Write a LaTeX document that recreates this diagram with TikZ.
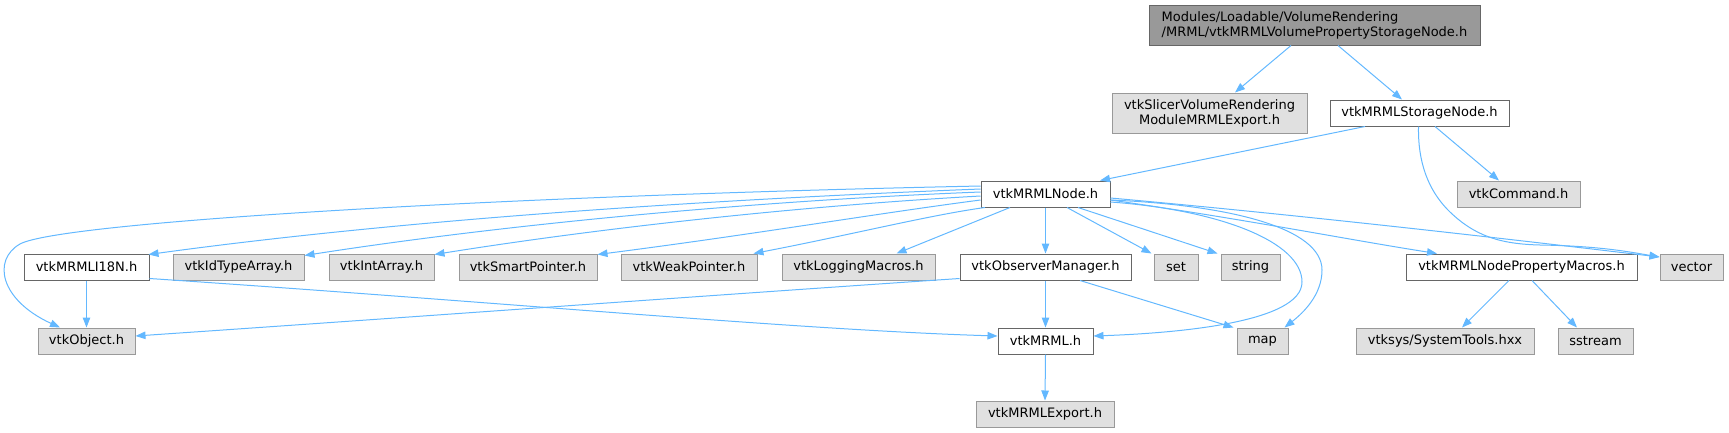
\documentclass[tikz,border=0pt]{standalone}
\usepackage{fontspec}
\setmainfont{DejaVu Sans}
\usetikzlibrary{arrows.meta}
\definecolor{edgec}{HTML}{63B8FF}
\definecolor{gfill}{HTML}{E0E0E0}
\definecolor{gdraw}{HTML}{999999}
\definecolor{wdraw}{HTML}{666666}
\definecolor{tfill}{HTML}{999999}
\tikzset{
  base/.style={rectangle, inner sep=0pt, line width=1pt, minimum height=26pt,
    font=\fontsize{13}{15}\selectfont, text=black},
  gbox/.style={base, fill=gfill, draw=gdraw},
  wbox/.style={base, fill=white, draw=wdraw},
  tbox/.style={base, fill=tfill, draw=wdraw},
  dep/.style={draw=edgec, line width=1pt, -{Triangle[length=10pt,width=7.5pt]}},
}
\begin{document}
\begin{tikzpicture}[x=1pt,y=-1pt]
\useasboundingbox (0,0) rectangle (1729,432);
% nodes
\node[tbox, minimum width=331pt, minimum height=40pt, align=left] (top) at (1314.5,25)
  {Modules/Loadable/VolumeRendering\\/MRML/vtkMRMLVolumePropertyStorageNode.h};
\node[gbox, minimum width=195pt, minimum height=40pt, align=center] (slicer) at (1209.5,113)
  {vtkSlicerVolumeRendering\\ModuleMRMLExport.h};
\node[wbox, minimum width=179pt] (storage) at (1419.5,113) {vtkMRMLStorageNode.h};
\node[wbox, minimum width=129pt] (mn) at (1045.5,194) {vtkMRMLNode.h};
\node[gbox, minimum width=123pt] (command) at (1518.5,194) {vtkCommand.h};
\node[wbox, minimum width=125pt] (i18n) at (86.5,267) {vtkMRMLI18N.h};
\node[gbox, minimum width=131pt] (idtype) at (238.5,267) {vtkIdTypeArray.h};
\node[gbox, minimum width=105pt] (intarray) at (381.5,267) {vtkIntArray.h};
\node[gbox, minimum width=138pt] (smartptr) at (528,267) {vtkSmartPointer.h};
\node[gbox, minimum width=136pt] (weakptr) at (689,267) {vtkWeakPointer.h};
\node[gbox, minimum width=153pt] (logging) at (858.5,267) {vtkLoggingMacros.h};
\node[wbox, minimum width=171pt] (observer) at (1045.5,267) {vtkObserverManager.h};
\node[gbox, minimum width=44pt] (set) at (1176,267) {set};
\node[gbox, minimum width=59pt] (string) at (1250.5,267) {string};
\node[wbox, minimum width=231pt] (propmacros) at (1521.5,267) {vtkMRMLNodePropertyMacros.h};
\node[gbox, minimum width=63pt] (vector) at (1691.5,267) {vector};
\node[gbox, minimum width=97pt] (object) at (86.5,341) {vtkObject.h};
\node[wbox, minimum width=95pt] (mrml) at (1045.5,341) {vtkMRML.h};
\node[gbox, minimum width=51pt] (map) at (1262.5,341) {map};
\node[gbox, minimum width=178pt] (systools) at (1445,341) {vtksys/SystemTools.hxx};
\node[gbox, minimum width=75pt] (sstream) at (1595.5,341) {sstream};
\node[gbox, minimum width=138pt] (export) at (1045,414) {vtkMRMLExport.h};
% edges
\draw[dep] ([xshift=-23.5pt]top.south) -- ([xshift=25.5pt]slicer.north);
\draw[dep] ([xshift=23.5pt]top.south) -- ([xshift=-17.5pt]storage.north);
\draw[dep] ([xshift=-54.5pt]storage.south) -- ([xshift=54.5pt]mn.north);
\draw[dep] ([xshift=15.5pt]storage.south) -- ([xshift=-19.5pt]command.north);
\draw[dep] ([xshift=-1pt]storage.south) .. controls (1418,150) and (1422,185) .. (1450,212)
  .. controls (1475,236) and (1500,244) .. (1540,245)
  .. controls (1600,246) and (1630,252) .. ([yshift=10pt]vector.west);
% from vtkMRMLNode.h
\draw[dep] ([yshift=8pt]mn.west) .. controls (500,196) and (60,222) .. (20,244)
  .. controls (-8,260) and (0,300) .. ([xshift=-26.5pt]object.north);
\draw[dep] ([yshift=5pt]mn.west) .. controls (700,200) and (400,220) .. ([xshift=-1pt,yshift=-1pt]i18n.north east);
\draw[dep] ([yshift=2pt]mn.west) .. controls (750,201) and (500,225) .. ([yshift=-2pt]idtype.north east);
\draw[dep] ([yshift=-2pt]mn.west) .. controls (800,206) and (600,228) .. ([yshift=-1pt]intarray.north east);
\draw[dep] ([yshift=-6pt]mn.west) .. controls (880,213) and (750,235) .. ([yshift=-1pt]smartptr.north east);
\draw[dep] ([xshift=-60.5pt]mn.south) .. controls (930,215) and (850,235) .. ([xshift=-4pt]weakptr.north east);
\draw[dep] ([xshift=-35.5pt]mn.south) -- ([xshift=38pt]logging.north);
\draw[dep] (mn.south) -- (observer.north);
\draw[dep] ([xshift=21.5pt]mn.south) -- ([xshift=-2pt]set.north west);
\draw[dep] ([xshift=32.5pt]mn.south) -- ([xshift=-3pt]string.north west);
\draw[dep] ([yshift=-6pt]mn.east) .. controls (1230,205) and (1322,228) .. (1322,270)
  .. controls (1322,295) and (1303,313) .. ([xshift=-4pt]map.north east);
\draw[dep] ([yshift=-8pt]mn.east) .. controls (1220,210) and (1302,242) .. (1302,282)
  .. controls (1302,322) and (1180,333) .. ([yshift=5pt]mrml.east);
\draw[dep] ([yshift=-6pt]mn.east) .. controls (1250,220) and (1350,240) .. ([xshift=-84.5pt]propmacros.north);
\draw[dep] ([yshift=-4pt]mn.east) .. controls (1300,215) and (1500,238) .. ([yshift=10pt]vector.west);
% others
\draw[dep] (i18n.south) -- (object.north);
\draw[dep] ([yshift=2pt]i18n.south east) .. controls (500,302) and (800,330) .. ([yshift=5pt]mrml.west);
\draw[dep] ([yshift=2pt]observer.south west) .. controls (700,296) and (400,318) .. ([yshift=5pt]object.east);
\draw[dep] (observer.south) -- (mrml.north);
\draw[dep] ([xshift=34.5pt]observer.south) -- ([xshift=-3pt]map.north west);
\draw[dep] (mrml.south) -- (export.north);
\draw[dep] ([xshift=-12.5pt]propmacros.south) -- ([xshift=17pt]systools.north);
\draw[dep] ([xshift=10.5pt]propmacros.south) -- ([xshift=-18.5pt]sstream.north);
\end{tikzpicture}
\end{document}
